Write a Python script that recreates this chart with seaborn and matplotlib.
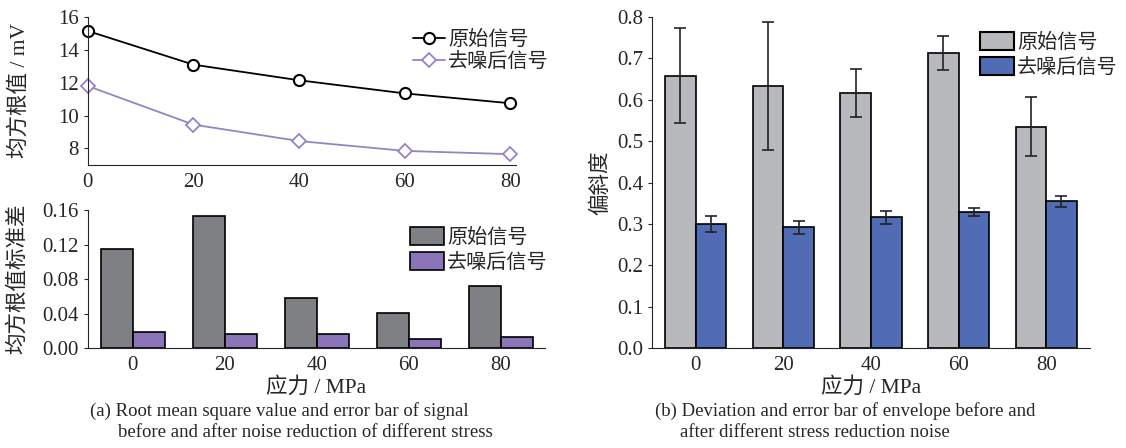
import numpy as np
import pandas as pd
import seaborn as sns
import matplotlib.pyplot as plt
from matplotlib.patches import Patch

# data
stress = [0, 20, 40, 60, 80]
series = ['原始信号', '去噪后信号']
rms_raw = [15.15, 13.10, 12.15, 11.35, 10.75]
rms_den = [11.80, 9.45, 8.45, 7.85, 7.65]
rms_std_raw = [0.115, 0.153, 0.058, 0.041, 0.072]
rms_std_den = [0.019, 0.016, 0.016, 0.010, 0.013]
skew_raw = [0.658, 0.633, 0.616, 0.713, 0.535]
skew_den = [0.300, 0.292, 0.316, 0.329, 0.355]
skew_err_raw = [0.115, 0.155, 0.058, 0.041, 0.072]
skew_err_den = [0.019, 0.016, 0.016, 0.010, 0.013]

sns.set_style('ticks')
plt.rcParams['font.family'] = ['Liberation Serif', 'Noto Sans CJK SC']
plt.rcParams['font.weight'] = 'light'
plt.rcParams['axes.unicode_minus'] = False
FS = 15      # tick labels
LFS = 15.5   # axis labels
GFS = 14.5   # legend
CFS = 13.5   # captions

fig = plt.figure(figsize=(11.26, 4.48), dpi=100)

# -------------------------
# (a) top: RMS line chart
# -------------------------
ax1 = fig.add_axes([0.078, 0.632, 0.380, 0.330])
sns.lineplot(x=stress, y=rms_raw, ax=ax1, color='black', lw=1.3, marker='o',
             ms=8, mfc='white', mec='black', mew=1.5, label=series[0], clip_on=False)
sns.lineplot(x=stress, y=rms_den, ax=ax1, color='#9583c6', lw=1.3, marker='D',
             ms=7, mfc='white', mec='#9583c6', mew=1.3, label=series[1], clip_on=False)
ax1.set_xlim(0, 81)
ax1.set_ylim(7, 16)
ax1.set_yticks([8, 10, 12, 14, 16])
ax1.set_xticks(stress)
ax1.set_ylabel('均方根值 / mV', fontsize=LFS)
ax1.yaxis.set_label_coords(-0.135, 0.5)
ax1.tick_params(labelsize=FS, length=3)
ax1.tick_params(axis='x', length=0, pad=6)
ax1.legend(loc='upper right', bbox_to_anchor=(1.12, 1.03), frameon=False,
           fontsize=GFS, handlelength=1.6, handletextpad=0.15, labelspacing=0.15)
sns.despine(ax=ax1)

# -------------------------
# (a) bottom: RMS std bars
# -------------------------
ax2 = fig.add_axes([0.078, 0.223, 0.406, 0.308])
df_std = pd.DataFrame({
    'stress': [str(s) for s in stress] * 2,
    'value': rms_std_raw + rms_std_den,
    'series': [series[0]] * 5 + [series[1]] * 5,
})
sns.barplot(data=df_std, x='stress', y='value', hue='series', ax=ax2,
            palette=['#7f8083', '#8b74b8'], width=0.7, edgecolor='black',
            linewidth=1.2, saturation=1)
ax2.set_xlim(-0.49, 4.48)
ax2.set_ylim(0, 0.16)
ax2.set_yticks([0, 0.04, 0.08, 0.12, 0.16])
ax2.set_yticklabels(['0.00', '0.04', '0.08', '0.12', '0.16'])
ax2.set_ylabel('均方根值标准差', fontsize=LFS)
ax2.yaxis.set_label_coords(-0.13, 0.5)
ax2.set_xlabel('应力 / MPa', fontsize=LFS, labelpad=1)
ax2.tick_params(labelsize=FS, length=3)
ax2.tick_params(axis='x', length=0, pad=6)
ax2.legend(loc='upper right', bbox_to_anchor=(1.045, 1.01), frameon=False,
           fontsize=GFS, handlelength=1.7, handleheight=1.0,
           handletextpad=0.15, labelspacing=0.2, title=None)
sns.despine(ax=ax2)

# -------------------------
# (b) skewness bars with error bars
# -------------------------
ax3 = fig.add_axes([0.579, 0.223, 0.389, 0.739])
df_skew = pd.DataFrame({
    'stress': [str(s) for s in stress] * 2,
    'value': skew_raw + skew_den,
    'err': skew_err_raw + skew_err_den,
    'series': [series[0]] * 5 + [series[1]] * 5,
})
sns.barplot(data=df_skew, x='stress', y='value', hue='series', ax=ax3,
            palette=['#b8b9bc', '#516cb5'], width=0.7, edgecolor='black',
            linewidth=1.2, saturation=1)
# error bars at the bar centres
bars = [p for p in ax3.patches if p.get_height() > 0]
xs = [p.get_x() + p.get_width() / 2 for p in bars]
hs = [p.get_height() for p in bars]
errs = df_skew['err'].tolist()
ax3.errorbar(xs, hs, yerr=errs, fmt='none', ecolor='#222222', elinewidth=1.2,
             capsize=4, capthick=1.2)
ax3.set_xlim(-0.5, 4.5)
ax3.set_ylim(0, 0.8)
ax3.set_yticks(np.arange(0, 0.81, 0.1))
ax3.set_yticklabels([f'{v:.1f}' for v in np.arange(0, 0.81, 0.1)])
ax3.set_ylabel('偏斜度', fontsize=LFS)
ax3.set_xlabel('应力 / MPa', fontsize=LFS, labelpad=1)
ax3.tick_params(labelsize=FS, length=3)
ax3.tick_params(axis='x', length=0, pad=6)
handles = [Patch(facecolor='#b8b9bc', edgecolor='black', lw=1.5),
           Patch(facecolor='#516cb5', edgecolor='black', lw=1.5)]
ax3.legend(handles, series, loc='upper right', bbox_to_anchor=(1.105, 1.01),
           frameon=False, fontsize=GFS, handlelength=1.7, handleheight=1.0,
           handletextpad=0.15, labelspacing=0.2)
sns.despine(ax=ax3)

# captions
fig.text(0.080, 0.082, '(a) Root mean square value and error bar of signal', fontsize=CFS, va='center')
fig.text(0.105, 0.035, 'before and after noise reduction of different stress', fontsize=CFS, va='center')
fig.text(0.582, 0.082, '(b) Deviation and error bar of envelope before and', fontsize=CFS, va='center')
fig.text(0.604, 0.035, 'after different stress reduction noise', fontsize=CFS, va='center')

fig.savefig('out.png', dpi=100)
